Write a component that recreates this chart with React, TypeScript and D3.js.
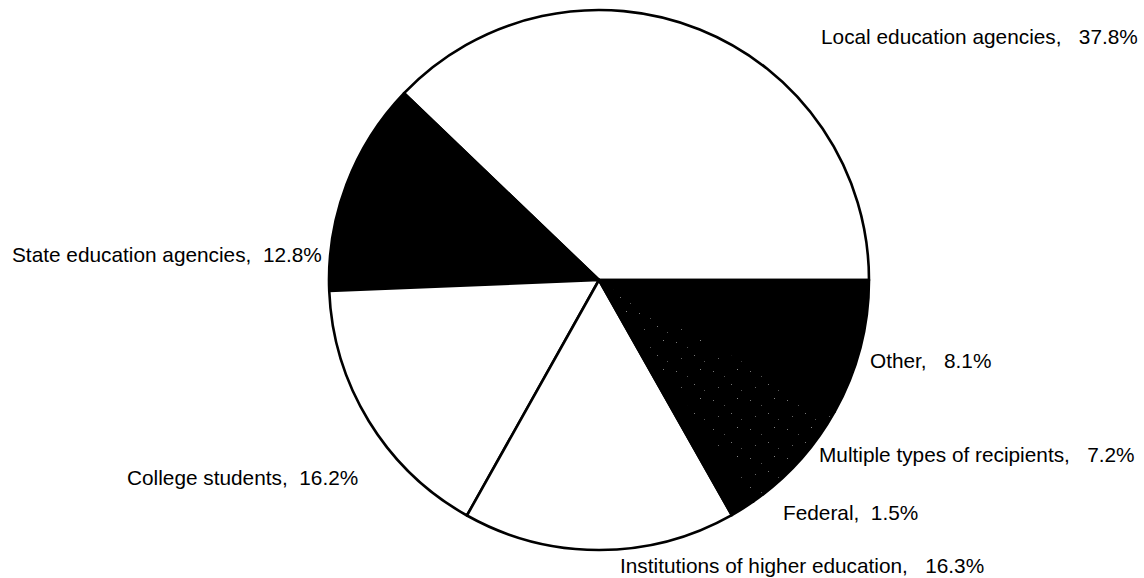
import React, { useEffect } from "react";
import * as d3 from "d3";

const categories = [
  "Local education agencies",
  "State education agencies",
  "College students",
  "Institutions of higher education",
  "Federal",
  "Multiple types of recipients",
  "Other",
];
const values = [37.8, 12.8, 16.2, 16.3, 1.5, 7.2, 8.1];
const valueLabels = ["37.8%", "12.8%", "16.2%", "16.3%", "1.5%", "7.2%", "8.1%"];
const separators = [",   ", ",  ", ",  ", ",   ", ",  ", ",   ", ",   "];

// layout (label positions in pixels, left x / baseline y)
const labelPos: [number, number][] = [
  [821, 44],
  [12, 262],
  [127, 485],
  [620, 573],
  [783, 520],
  [819, 462],
  [870, 368],
];
const fills = ["#fff", "#000", "#fff", "#fff", "#000", "url(#speckle)", "#000"];

const W = 1144;
const H = 578;
const cx = 599;
const cy = 280;
const R = 270;

export default function App() {
  useEffect(() => {
    document.body.style.margin = "0";
  }, []);
  const pie = d3
    .pie<number>()
    .sort(null)
    .startAngle(Math.PI / 2)
    .endAngle(Math.PI / 2 - 2 * Math.PI)
    .value((d) => d);
  const arcs = pie(values);
  const arc = d3.arc<d3.PieArcDatum<number>>().innerRadius(0).outerRadius(R);

  return (
    <svg width={W} height={H} style={{ display: "block", background: "#fff" }}>
      <defs>
        <pattern id="speckle" width="37" height="29" patternUnits="userSpaceOnUse">
          <rect width="37" height="29" fill="#000" />
          <rect x="3" y="4" width="1" height="1" fill="#777" />
          <rect x="14" y="9" width="1" height="1" fill="#555" />
          <rect x="27" y="2" width="1" height="1" fill="#888" />
          <rect x="8" y="20" width="1" height="1" fill="#666" />
          <rect x="31" y="23" width="1" height="1" fill="#555" />
          <rect x="21" y="17" width="1" height="1" fill="#777" />
        </pattern>
      </defs>
      <g transform={`translate(${cx},${cy})`}>
        {arcs.map((a, i) => (
          <path
            key={i}
            d={arc(a) || ""}
            fill={fills[i]}
            stroke="#000"
            strokeWidth={2.6}
            strokeLinejoin="round"
          />
        ))}
      </g>
      <g
        fontFamily="'Liberation Sans', Arial, Helvetica, sans-serif"
        fontSize={20.8}
        fill="#000"
      >
        {categories.map((c, i) => (
          <text
            key={c}
            x={labelPos[i][0]}
            y={labelPos[i][1]}
            style={{ whiteSpace: "pre" }}
          >
            {c + separators[i] + valueLabels[i]}
          </text>
        ))}
      </g>
    </svg>
  );
}
